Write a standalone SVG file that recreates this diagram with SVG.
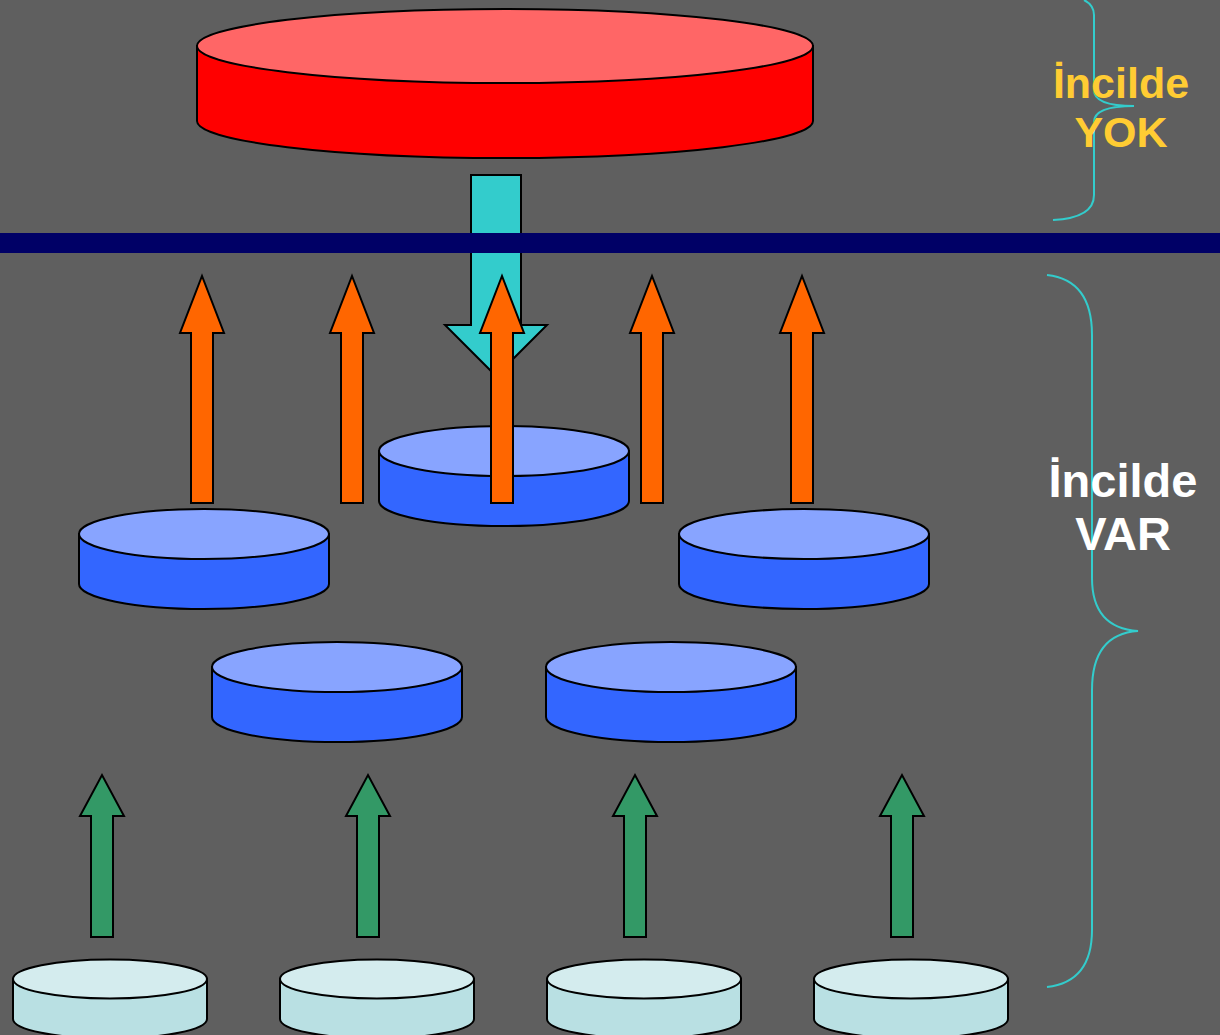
<svg xmlns="http://www.w3.org/2000/svg" width="1220" height="1035" viewBox="0 0 1220 1035">
<style>
.o{stroke:#000;stroke-width:2;stroke-linejoin:miter}
.redS{fill:#ff0000}.redT{fill:#ff6666}
.bluS{fill:#3366ff}.bluT{fill:#88a4ff}
.lcS{fill:#b9e0e3}.lcT{fill:#d4ecee}
.ora{fill:#ff6600}.grn{fill:#339966}.cya{fill:#33cccc}
.brace{fill:none;stroke:#33cccc;stroke-width:2}
.lbl{font-family:"Liberation Sans",Arial,sans-serif;font-weight:bold;text-anchor:middle}
</style>
<defs>
<path id="upO" d="M-11,0 L-11,-170 L-22,-170 L0,-227 L22,-170 L11,-170 L11,0 Z"/>
<path id="upG" d="M-11,0 L-11,-121 L-22,-121 L0,-162 L22,-121 L11,-121 L11,0 Z"/>
</defs>
<rect width="1220" height="1035" fill="#5f5f5f"/>

<g id="red-cylinder">
<path class="o redS" d="M197,46 L197,121 A308,37 0 0 0 813,121 L813,46 Z"/>
<ellipse class="o redT" cx="505" cy="46" rx="308" ry="37"/>
</g>

<g id="cyan-arrow">
<path class="o cya" d="M471,175 L521,175 L521,325 L547,325 L496,376 L445,325 L471,325 Z"/>
</g>

<g id="divider">
<rect x="0" y="233" width="1220" height="20" fill="#000066"/>
</g>

<g id="blue-top">
<path class="o bluS" d="M379,451 L379,501 A125,25 0 0 0 629,501 L629,451 Z"/>
<ellipse class="o bluT" cx="504" cy="451" rx="125" ry="25"/>
</g>
<g id="blue-left">
<path class="o bluS" d="M79,534 L79,584 A125,25 0 0 0 329,584 L329,534 Z"/>
<ellipse class="o bluT" cx="204" cy="534" rx="125" ry="25"/>
</g>
<g id="blue-right">
<path class="o bluS" d="M679,534 L679,584 A125,25 0 0 0 929,584 L929,534 Z"/>
<ellipse class="o bluT" cx="804" cy="534" rx="125" ry="25"/>
</g>
<g id="blue-lower-left">
<path class="o bluS" d="M212,667 L212,717 A125,25 0 0 0 462,717 L462,667 Z"/>
<ellipse class="o bluT" cx="337" cy="667" rx="125" ry="25"/>
</g>
<g id="blue-lower-right">
<path class="o bluS" d="M546,667 L546,717 A125,25 0 0 0 796,717 L796,667 Z"/>
<ellipse class="o bluT" cx="671" cy="667" rx="125" ry="25"/>
</g>

<g id="light-1">
<path class="o lcS" d="M13,979 L13,1019 A97,19.5 0 0 0 207,1019 L207,979 Z"/>
<ellipse class="o lcT" cx="110" cy="979" rx="97" ry="19.5"/>
</g>
<g id="light-2">
<path class="o lcS" d="M280,979 L280,1019 A97,19.5 0 0 0 474,1019 L474,979 Z"/>
<ellipse class="o lcT" cx="377" cy="979" rx="97" ry="19.5"/>
</g>
<g id="light-3">
<path class="o lcS" d="M547,979 L547,1019 A97,19.5 0 0 0 741,1019 L741,979 Z"/>
<ellipse class="o lcT" cx="644" cy="979" rx="97" ry="19.5"/>
</g>
<g id="light-4">
<path class="o lcS" d="M814,979 L814,1019 A97,19.5 0 0 0 1008,1019 L1008,979 Z"/>
<ellipse class="o lcT" cx="911" cy="979" rx="97" ry="19.5"/>
</g>

<g id="connectors">
<use href="#upO" class="o ora" transform="translate(202,503)"/>
<use href="#upO" class="o ora" transform="translate(352,503)"/>
<use href="#upO" class="o ora" transform="translate(502,503)"/>
<use href="#upO" class="o ora" transform="translate(652,503)"/>
<use href="#upO" class="o ora" transform="translate(802,503)"/>
<use href="#upG" class="o grn" transform="translate(102,937)"/>
<use href="#upG" class="o grn" transform="translate(368,937)"/>
<use href="#upG" class="o grn" transform="translate(635,937)"/>
<use href="#upG" class="o grn" transform="translate(902,937)"/>
</g>

<g id="brace-top">
<path class="brace" d="M1084,0 Q1094,5 1094,15 L1094,90 Q1094,106 1134,106 Q1094,106 1094,122 L1094,195 Q1094,218 1053,220"/>
</g>
<g id="brace-bottom">
<path class="brace" d="M1047,275 Q1092,280 1092,335 L1092,578 Q1092,628 1138,631 Q1092,634 1092,690 L1092,930 Q1092,982 1047,987"/>
</g>

<g id="label-yok">
<text class="lbl" x="1121" y="98" font-size="43" fill="#ffcc33">İncilde</text>
<text class="lbl" x="1121" y="147" font-size="43" fill="#ffcc33">YOK</text>
</g>
<g id="label-var">
<text class="lbl" x="1123" y="497" font-size="47" fill="#ffffff">İncilde</text>
<text class="lbl" x="1123" y="550" font-size="47" fill="#ffffff">VAR</text>
</g>
</svg>
